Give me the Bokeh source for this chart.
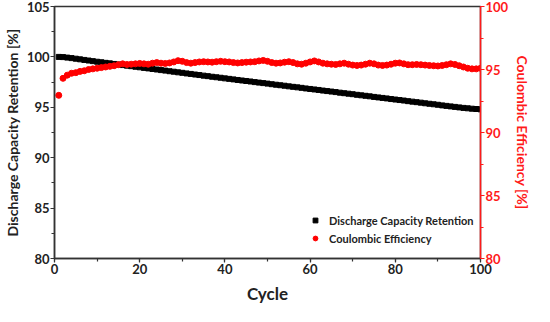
import math
from bokeh.plotting import figure
from bokeh.models import Range1d, LinearAxis, SingleIntervalTicker, Legend, LegendItem
from bokeh.embed import file_html
from bokeh.resources import INLINE

cycles = list(range(1, 101))

retention = [
    100.00, 99.98, 99.93, 99.88, 99.82, 99.76, 99.70, 99.64, 99.58, 99.52,
    99.47, 99.41, 99.36, 99.30, 99.25, 99.19, 99.13, 99.08, 99.02, 98.97,
    98.91, 98.86, 98.80, 98.75, 98.69, 98.64, 98.58, 98.53, 98.47, 98.42,
    98.36, 98.31, 98.25, 98.20, 98.14, 98.09, 98.03, 97.98, 97.93, 97.87,
    97.82, 97.77, 97.71, 97.66, 97.61, 97.56, 97.50, 97.45, 97.40, 97.35,
    97.29, 97.24, 97.19, 97.14, 97.08, 97.03, 96.98, 96.93, 96.87, 96.82,
    96.77, 96.72, 96.66, 96.61, 96.56, 96.51, 96.45, 96.40, 96.35, 96.30,
    96.24, 96.19, 96.14, 96.09, 96.03, 95.98, 95.93, 95.88, 95.82, 95.77,
    95.72, 95.67, 95.61, 95.56, 95.51, 95.46, 95.40, 95.35, 95.30, 95.25,
    95.19, 95.14, 95.09, 95.04, 94.99, 94.94, 94.90, 94.86, 94.83, 94.80,
]

efficiency = [
    92.95, 94.30, 94.55, 94.70, 94.75, 94.85, 94.90, 95.00, 95.05, 95.10,
    95.15, 95.20, 95.25, 95.30, 95.38, 95.45, 95.40, 95.42, 95.45, 95.48,
    95.45, 95.42, 95.50, 95.55, 95.50, 95.48, 95.52, 95.60, 95.70, 95.65,
    95.55, 95.50, 95.55, 95.60, 95.62, 95.60, 95.58, 95.62, 95.65, 95.62,
    95.60, 95.55, 95.52, 95.55, 95.58, 95.60, 95.62, 95.68, 95.72, 95.65,
    95.55, 95.50, 95.52, 95.58, 95.62, 95.55, 95.45, 95.42, 95.50, 95.60,
    95.68, 95.60, 95.50, 95.45, 95.42, 95.40, 95.45, 95.50, 95.42, 95.35,
    95.32, 95.35, 95.42, 95.50, 95.45, 95.35, 95.32, 95.35, 95.42, 95.50,
    95.52, 95.45, 95.38, 95.38, 95.40, 95.38, 95.35, 95.32, 95.30, 95.28,
    95.32, 95.38, 95.45, 95.40, 95.30, 95.20, 95.10, 95.05, 95.05, 95.10,
]

x_title = "Cycle"
left_title = "Discharge Capacity Retention [%]"
right_title = "Coulombic Efficiency [%]"

FONT = "Lato"
RED = "#ff1a1a"
DARK = "#222222"

p = figure(width=534, height=306, output_backend="svg", toolbar_location=None,
           x_range=Range1d(0, 100), y_range=Range1d(80, 105),
           min_border_left=30, min_border_right=30, min_border_top=6, min_border_bottom=30)
p.extra_y_ranges = {"ce": Range1d(80, 100)}
p.grid.visible = False
p.outline_line_color = "#333333"
p.outline_line_width = 1.5
p.background_fill_color = "white"
p.border_fill_color = "white"

def style(ax, color):
    ax.axis_line_color = color
    ax.axis_line_width = 1.5
    ax.major_tick_line_color = color
    ax.minor_tick_line_color = color
    ax.major_tick_line_width = 1.2
    ax.minor_tick_line_width = 1.2
    ax.major_tick_in = 0
    ax.major_tick_out = 4
    ax.minor_tick_in = 0
    ax.minor_tick_out = 3
    ax.major_label_text_font = FONT
    ax.major_label_text_font_style = "bold"
    ax.major_label_text_font_size = "13px"
    ax.major_label_standoff = 1
    ax.axis_label_text_font = FONT
    ax.axis_label_text_font_style = "bold"
    ax.axis_label_standoff = 1

xa = p.xaxis[0]
xa.ticker = SingleIntervalTicker(interval=20, num_minor_ticks=2)
style(xa, "#333333")
xa.major_label_text_color = DARK
xa.axis_label = x_title
xa.axis_label_text_font_size = "17px"
xa.axis_label_text_color = DARK
xa.axis_label_standoff = 6

ya = p.yaxis[0]
ya.ticker = SingleIntervalTicker(interval=5, num_minor_ticks=2)
style(ya, "#333333")
ya.major_label_text_color = DARK
ya.axis_label = left_title
ya.axis_label_text_font_size = "14px"
ya.axis_label_text_color = DARK
ya.axis_label_standoff = 3

ra = LinearAxis(y_range_name="ce", ticker=SingleIntervalTicker(interval=5, num_minor_ticks=2))
style(ra, RED)
ra.major_label_text_color = RED
ra.axis_label = right_title
ra.axis_label_text_font_size = "14px"
ra.axis_label_text_color = RED
ra.axis_label_standoff = 3
p.add_layout(ra, "right")

r1 = p.scatter(cycles, retention, marker="square", size=5, color="black")
r2 = p.scatter(cycles, efficiency, marker="circle", size=6, color="red", y_range_name="ce")

legend = Legend(items=[LegendItem(label="Discharge Capacity Retention", renderers=[r1]),
                       LegendItem(label="Coulombic Efficiency", renderers=[r2])],
                location=(255, 13))
legend.label_text_font = FONT
legend.label_text_font_style = "bold"
legend.label_text_font_size = "11px"
legend.label_text_color = DARK
legend.border_line_color = None
legend.background_fill_alpha = 0
legend.spacing = 4
legend.glyph_width = 12
legend.glyph_height = 14
legend.label_standoff = 8
legend.padding = 2
legend.label_height = 14
p.add_layout(legend)

open("out.html", "w").write(file_html(p, INLINE))
